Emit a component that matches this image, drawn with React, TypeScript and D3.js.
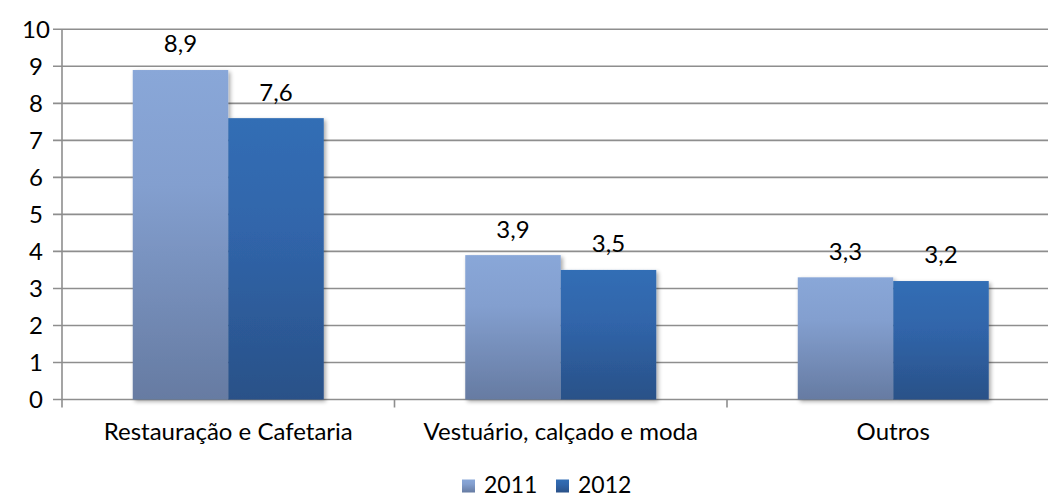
import React from "react";
import * as d3 from "d3";

const categories = ["Restauração e Cafetaria", "Vestuário, calçado e moda", "Outros"];
const seriesNames = ["2011", "2012"];
const values2011 = [8.9, 3.9, 3.3];
const values2012 = [7.6, 3.5, 3.2];
const yTicks = [0, 1, 2, 3, 4, 5, 6, 7, 8, 9, 10];

const W = 1048, H = 498;
const left = 62, top = 29.3, bottom = 399.5;
const catW = 332.5;
const FONT = "Lato, 'Open Sans', sans-serif";
const FS = 24;

export default function App() {
  const x = d3.scaleBand<string>().domain(categories).range([left, left + catW * 3]).paddingInner(0).paddingOuter(0);
  const inner = d3.scaleBand<string>().domain(seriesNames).range([0, 191]);
  const y = d3.scaleLinear().domain([0, 10]).range([bottom, top]);
  const series = [values2011, values2012];
  const fmt = (v: number) => v.toFixed(1).replace(".", ",");
  const grads = ["g2011", "g2012"];
  const gridColor = "#8e8e8e";
  return (
    <svg width={W} height={H} style={{ position: "absolute", left: 0, top: 0, display: "block" }}>
      <defs>
        <linearGradient id="g2011" x1="0" y1="0" x2="0" y2="1">
          <stop offset="0" stopColor="#89A7D8" />
          <stop offset="0.35" stopColor="#839FCF" />
          <stop offset="1" stopColor="#667BA2" />
        </linearGradient>
        <linearGradient id="g2012" x1="0" y1="0" x2="0" y2="1">
          <stop offset="0" stopColor="#326EB5" />
          <stop offset="0.4" stopColor="#3065AA" />
          <stop offset="1" stopColor="#2A5188" />
        </linearGradient>
        <filter id="sh" x="-10%" y="-10%" width="130%" height="130%">
          <feGaussianBlur in="SourceAlpha" stdDeviation="2" />
          <feOffset dx="1.5" dy="1.5" result="b" />
          <feComponentTransfer><feFuncA type="linear" slope="0.35" /></feComponentTransfer>
          <feMerge><feMergeNode /><feMergeNode in="SourceGraphic" /></feMerge>
        </filter>
      </defs>
      <rect width={W} height={H} fill="#fff" />
      {yTicks.map((t) => (
        <g key={t}>
          <line x1={53} x2={W} y1={y(t)} y2={y(t)} stroke={gridColor} strokeWidth={1.6} />
          <text x={36} y={y(t)} dy="0.35em" textAnchor="middle" fontFamily={FONT} fontSize={FS} fill="#000">{t}</text>
        </g>
      ))}
      <line x1={left} x2={left} y1={top} y2={bottom + 8} stroke={gridColor} strokeWidth={1.6} />
      {categories.map((c) => (
        <g key={c}>
          <line x1={x(c)! + catW} x2={x(c)! + catW} y1={bottom} y2={bottom + 8} stroke={gridColor} strokeWidth={1.6} />
          <text x={x(c)! + catW / 2} y={432} dy="0.35em" textAnchor="middle" fontFamily={FONT} fontSize={FS} fill="#000">{c}</text>
        </g>
      ))}
      {categories.map((c, i) => {
        const gx = x(c)! + (catW - 191) / 2;
        return (
          <g key={c} filter="url(#sh)">
            {series.map((s, j) => (
              <rect key={j} x={gx + inner(seriesNames[j])!} y={y(s[i])} width={inner.bandwidth()} height={bottom - y(s[i])} fill={`url(#${grads[j]})`} />
            ))}
          </g>
        );
      })}
      {categories.map((c, i) => {
        const gx = x(c)! + (catW - 191) / 2;
        return series.map((s, j) => (
          <text key={c + j} x={gx + inner(seriesNames[j])! + inner.bandwidth() / 2} y={y(s[i]) - 26} dy="0.35em" textAnchor="middle" fontFamily={FONT} fontSize={FS} fill="#000">{fmt(s[i])}</text>
        ));
      })}
      {seriesNames.map((n, j) => (
        <g key={n} transform={`translate(${462 + j * 94},0)`}>
          <rect x={0} y={479.5} width={13} height={13} fill={`url(#${grads[j]})`} />
          <text x={22} y={485} dy="0.35em" fontFamily={FONT} fontSize={23} fill="#000">{n}</text>
        </g>
      ))}
    </svg>
  );
}
